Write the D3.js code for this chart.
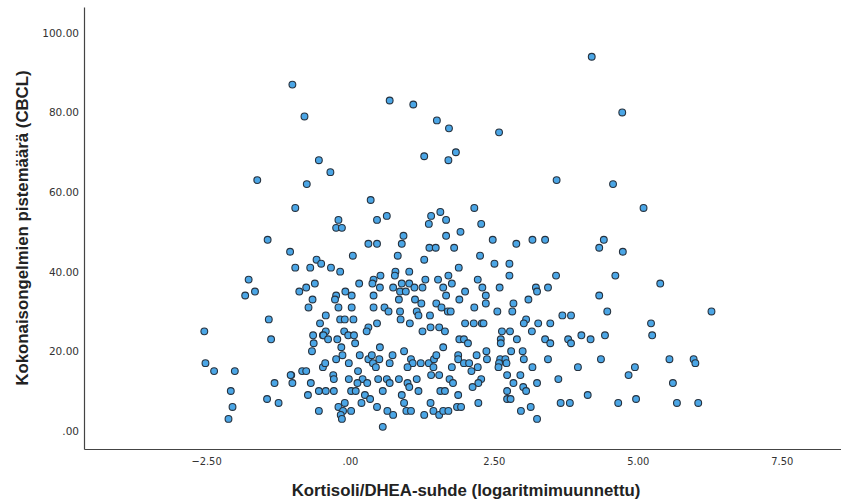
<!DOCTYPE html>
<html>
<head>
<meta charset="utf-8">
<script src="https://cdn.jsdelivr.net/npm/d3@7"></script>
<style>
  body { margin: 0; background: #fff; }
  svg { display: block; }
</style>
</head>
<body>
<svg></svg>
<script>
// kortisoli/DHEA (log) vs CBCL total score, one pair per child
var pisteet = [
  [4.20,94],[-1.00,87],[0.69,83],[1.10,82],[4.73,80],[-0.79,79],[1.51,78],[1.72,76],[2.59,75],[1.84,70],
  [1.29,69],[1.71,68],[-0.54,68],[-0.34,65],[-1.61,63],[-0.75,62],[3.59,63],[4.57,62],[0.36,58],
  [-0.95,56],[-1.43,48],[-1.04,45],[-0.58,43],[-0.50,42],[-0.95,41],[-0.69,41],[-1.76,38],[-0.61,37],
  [-0.76,36],[-0.88,35],[-1.65,35],[-1.82,34],[-0.65,33],[-0.72,31],[-1.41,28],[-0.42,29],
  [-0.20,53],[-0.24,51],[-0.14,51],[0.47,53],[0.64,54],[1.57,55],[1.41,54],[1.37,52],[1.67,53],[0.93,49],
  [1.67,49],[0.32,47],[0.47,47],[0.90,47],[1.38,46],[1.49,46],[0.05,44],[0.83,44],[1.29,43],[-0.33,41],
  [-0.17,40],[0.53,39],[0.79,40],[1.03,40],[0.78,39],[0.41,38],[1.31,38],[1.53,38],[1.71,39],[0.16,37],
  [0.39,37],[0.90,37],[1.03,37],[0.52,36],[0.75,36],[0.87,35],[0.97,35],[1.12,36],[1.26,36],[1.62,36],
  [-0.08,35],[-0.24,34],[0.03,34],[-0.26,33],[0.41,34],[0.85,33],[1.13,33],[1.24,32],[1.67,34],[1.50,32],
  [-0.20,31],[0.03,31],[0.41,31],[0.60,31],[0.67,30],[0.87,30],[1.16,30],[1.59,31],[1.70,30],[1.39,29],
  [2.16,56],[2.28,52],[1.92,50],[2.48,48],[2.89,47],[3.17,48],[3.39,48],[1.81,46],[2.26,44],[2.51,42],
  [2.77,42],[1.89,41],[2.77,39],[3.58,39],[2.22,38],[1.77,37],[2.30,36],[2.60,36],[3.23,36],[3.44,36],
  [3.25,35],[2.00,35],[2.36,34],[1.90,33],[3.10,33],[2.36,32],[2.84,32],[2.16,31],[1.75,30],[2.56,30],
  [2.82,30],[3.06,28],[3.69,29],[3.84,29],
  [5.10,56],[4.41,48],[4.33,46],[4.74,45],[4.61,39],[5.39,37],[4.33,34],[4.47,30],
  [-2.53,25],[-1.37,23],[-0.52,27],[-0.64,24],[-0.47,24],[-0.63,22],[-0.66,20],[-2.51,17],[-2.36,15],
  [-2.00,15],[-1.02,14],[-0.83,15],[-0.76,15],[-0.47,16],[-1.31,12],[-1.00,12],[-0.68,12],[-2.07,10],
  [-0.54,10],[-0.73,9],[-1.44,8],[-1.24,7],[-2.04,6],[-0.54,5],[-2.11,3],[-1.03,14],
  [-0.17,28],[-0.09,28],[0.06,28],[0.47,27],[0.32,26],[0.29,25],[0.88,28],[1.04,27],[1.26,25],[1.40,26],
  [1.55,26],[1.65,25],[-0.42,25],[-0.46,24],[-0.38,23],[-0.22,23],[-0.10,25],[-0.03,24],[0.07,24],[0.09,22],
  [-0.15,21],[-0.13,19],[-0.24,18],[-0.43,17],[-0.02,17],[0.17,19],[0.32,18],[0.38,19],[0.51,18],[0.40,17],
  [0.45,16],[0.52,21],[0.74,19],[0.69,17],[0.94,20],[1.06,18],[1.09,17],[1.00,16],[1.23,17],[1.37,17],
  [1.46,18],[1.50,19],[1.62,21],[1.45,16],[1.55,14],[1.41,14],[0.14,15],[0.22,13],[-0.29,14],[-0.28,13],
  [-0.02,13],[0.13,12],[0.30,12],[0.49,13],[0.64,13],[0.69,12],[0.85,13],[1.00,12],[1.03,11],[1.16,13],
  [1.19,10],[0.57,10],[0.26,9],[0.35,8],[0.90,9],[0.94,7],[0.20,7],[-0.42,10],[-0.28,10],[0.02,10],
  [0.10,10],[1.57,10],[1.65,10],[1.40,7],[-0.09,7],[-0.20,6],[-0.12,5],[-0.16,4],[-0.14,3],[0.02,5],
  [0.47,6],[0.65,5],[0.75,4],[0.98,5],[1.06,5],[1.29,4],[1.45,5],[1.55,4],[1.62,5],[1.71,5],
  [0.57,1],[1.19,29],
  [2.00,27],[2.15,27],[2.29,27],[2.32,27],[3.02,27],[3.27,27],[3.48,27],[2.64,25],[2.78,25],[3.16,25],
  [1.90,23],[1.98,23],[2.05,22],[2.62,23],[2.62,22],[2.90,23],[3.39,23],[3.48,22],[3.79,23],[3.84,22],
  [2.37,20],[2.80,20],[3.00,20],[1.88,19],[2.20,19],[1.88,18],[2.38,18],[2.61,18],[2.70,18],[3.02,18],
  [3.44,18],[1.98,17],[2.07,17],[2.59,17],[2.72,17],[2.58,16],[2.22,16],[1.77,16],[2.11,15],[3.17,16],
  [2.73,14],[2.96,14],[1.73,13],[1.79,12],[2.28,13],[2.23,12],[3.62,13],[2.84,12],[3.25,12],[2.13,11],
  [3.01,11],[3.06,10],[2.73,10],[1.88,9],[2.73,8],[2.79,8],[1.86,6],[1.93,6],[2.23,7],[3.14,6],
  [3.66,7],[3.82,7],[2.97,5],[3.25,3],
  [5.23,27],[5.25,24],[4.02,24],[4.18,23],[4.43,24],[4.36,18],[5.55,18],[5.97,18],[6.00,17],[3.96,16],
  [4.95,16],[4.84,14],[5.61,12],[4.13,9],[4.66,7],[4.97,8],[5.68,7],[6.05,7],[6.28,30]
];

var xTicks = [-2.5, 0, 2.5, 5, 7.5];
var yTicks = [0, 20, 40, 60, 80, 100];
var xTitle = "Kortisoli/DHEA-suhde (logaritmimuunnettu)";
var yTitle = "Kokonaisongelmien pistemäärä (CBCL)";

var svgWidth = 841, svgHeight = 503;
var margin = { top: 7, right: 0, bottom: 54, left: 84 };
var width = svgWidth - margin.left - margin.right;
var height = svgHeight - margin.top - margin.bottom;

var svg = d3.select("svg")
    .attr("width", svgWidth)
    .attr("height", svgHeight);

var g = svg.append("g")
    .attr("transform", "translate(" + margin.left + "," + margin.top + ")");

var x = d3.scaleLinear().domain([-4.62, 8.53]).range([0, width]);
var y = d3.scaleLinear().domain([-4.57, 106.5]).range([height, 0]);

// SPSS style: ".00" instead of "0.00"
function spssFmt(d) {
    return d3.format(".2f")(d).replace(/^(-?)0\./, "$1.");
}

var yAxis = g.append("g")
    .call(d3.axisLeft(y).tickValues(yTicks).tickSize(0).tickPadding(5).tickFormat(spssFmt));
yAxis.select(".domain").attr("stroke", "#444").attr("stroke-width", 1.2);
yAxis.selectAll("text")
    .attr("fill", "#333")
    .style("font-family", "DejaVu Sans")
    .style("font-size", "10.5px");

var xAxis = g.append("g")
    .attr("transform", "translate(0," + height + ")")
    .call(d3.axisBottom(x).tickValues(xTicks).tickSize(0).tickPadding(8).tickFormat(spssFmt));
xAxis.select(".domain").attr("stroke", "#444").attr("stroke-width", 1.2);
xAxis.selectAll("text")
    .attr("fill", "#333")
    .style("font-family", "DejaVu Sans Condensed, DejaVu Sans")
    .style("font-stretch", "condensed")
    .style("font-size", "11px");

// points
g.append("g")
    .selectAll("circle")
    .data(pisteet)
    .enter().append("circle")
    .attr("cx", function(d) { return x(d[0]); })
    .attr("cy", function(d) { return y(d[1]); })
    .attr("r", 3.4)
    .attr("fill", "#4ba6e6")
    .attr("stroke", "#26323f")
    .attr("stroke-width", 1.1);

// axis titles
svg.append("text")
    .attr("x", 466)
    .attr("y", 496)
    .attr("text-anchor", "middle")
    .attr("fill", "#222")
    .style("font-family", "Liberation Sans")
    .style("font-weight", "bold")
    .style("font-size", "16.8px")
    .text(xTitle);

svg.append("text")
    .attr("transform", "translate(28,228) rotate(-90)")
    .attr("text-anchor", "middle")
    .attr("fill", "#222")
    .style("font-family", "Liberation Sans")
    .style("font-weight", "bold")
    .style("font-size", "16.8px")
    .text(yTitle);
</script>
</body>
</html>
